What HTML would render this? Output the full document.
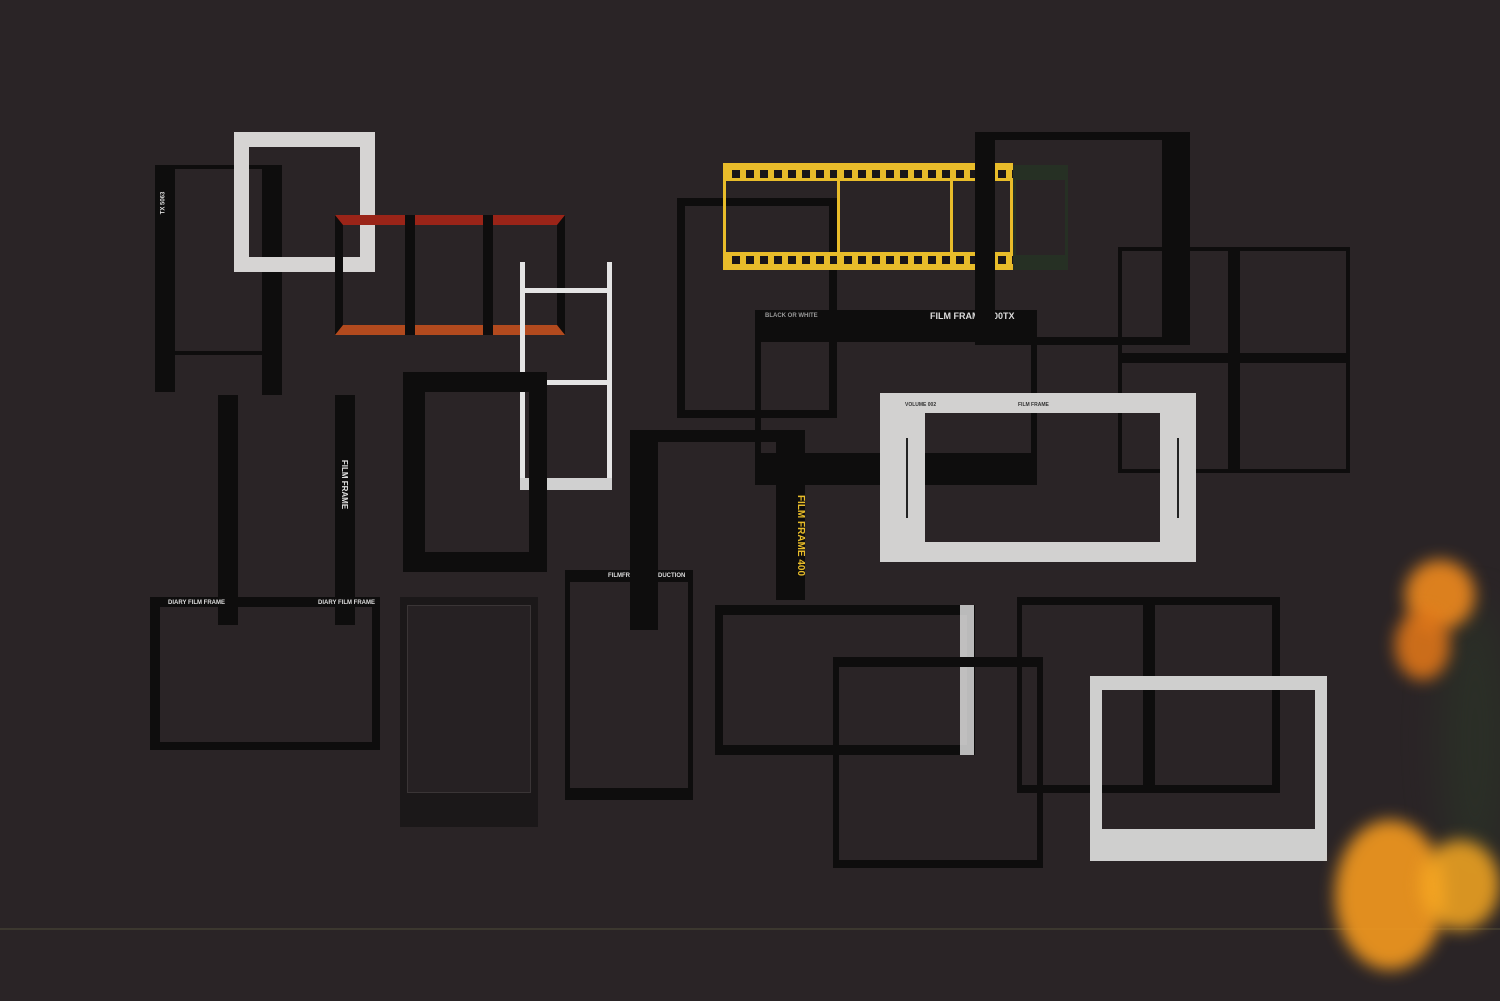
<!DOCTYPE html>
<html><head><meta charset="utf-8"><style>
html,body{margin:0;padding:0}
body{width:1500px;height:1001px;background:#2a2426;position:relative;overflow:hidden;font-family:"Liberation Sans",sans-serif}
.a{position:absolute;box-sizing:border-box}
.b{border:solid #0e0d0d}
.t{position:absolute;color:#ddd;font-size:6px;font-weight:bold;white-space:nowrap}
.holesY{background:repeating-linear-gradient(90deg,#e8bc2a 0 6px,#1a1618 6px 14px)}
.glow{position:absolute;border-radius:50%;filter:blur(8px)}
</style></head><body>
<div class="a" style="left:0;top:928px;width:1500px;height:2px;background:#4a4636;opacity:.6"></div>

<div class="a b" style="left:155px;top:165px;width:125px;height:190px;border-width:4px 4px 4px 20px"></div>
<div class="a" style="left:155px;top:330px;width:20px;height:62px;background:#0e0d0d"></div>
<div class="t" style="left:152px;top:200px;transform:rotate(-90deg)">TX 5063</div>
<div class="a" style="left:262px;top:165px;width:20px;height:230px;background:#0e0d0d"></div>
<div class="a" style="left:234px;top:132px;width:141px;height:140px;border:15px solid #d6d4d3"></div>
<div class="a b" style="left:335px;top:215px;width:230px;height:120px;border-width:10px 8px 10px 8px;border-top-color:#9a2418;border-bottom-color:#b24a1e"></div>
<div class="a" style="left:405px;top:215px;width:10px;height:120px;background:#0e0d0d"></div>
<div class="a" style="left:483px;top:215px;width:10px;height:120px;background:#0e0d0d"></div>
<div class="a" style="left:520px;top:262px;width:5px;height:228px;background:#e4e4e4"></div>
<div class="a" style="left:607px;top:262px;width:5px;height:228px;background:#e4e4e4"></div>
<div class="a" style="left:520px;top:288px;width:92px;height:5px;background:#e4e4e4"></div>
<div class="a" style="left:520px;top:380px;width:92px;height:5px;background:#e4e4e4"></div>
<div class="a" style="left:520px;top:478px;width:92px;height:12px;background:#d0d0d0"></div>
<div class="a b" style="left:403px;top:372px;width:144px;height:200px;border-width:20px 18px 20px 22px"></div>
<div class="a" style="left:218px;top:395px;width:20px;height:230px;background:#0e0d0d"></div>
<div class="a" style="left:335px;top:395px;width:20px;height:230px;background:#0e0d0d"></div>
<div class="t" style="left:320px;top:480px;transform:rotate(90deg);font-size:8px">FILM FRAME</div>
<div class="a b" style="left:150px;top:597px;width:230px;height:153px;border-width:10px 8px 8px 10px"></div>
<div class="t" style="left:168px;top:600px">DIARY FILM FRAME</div><div class="t" style="left:318px;top:600px">DIARY FILM FRAME</div>
<div class="a" style="left:400px;top:597px;width:138px;height:230px;background:#1b1819"></div>
<div class="a" style="left:407px;top:605px;width:124px;height:188px;border:1px solid #3a3536;background:#262123"></div>
<div class="a b" style="left:565px;top:570px;width:128px;height:230px;border-width:12px 5px 12px 5px"></div>
<div class="t" style="left:608px;top:573px">FILMFRAME PRODUCTION</div>
<div class="a" style="left:630px;top:430px;width:175px;height:12px;background:#0e0d0d"></div>
<div class="a" style="left:630px;top:430px;width:28px;height:200px;background:#0e0d0d"></div>
<div class="a" style="left:776px;top:430px;width:29px;height:170px;background:#0e0d0d"></div>
<div class="t" style="left:760px;top:530px;transform:rotate(90deg);font-size:10px;color:#e8bc2a">FILM FRAME 400</div>
<div class="a b" style="left:677px;top:198px;width:160px;height:220px;border-width:8px 8px 8px 8px"></div>
<div class="a" style="left:723px;top:163px;width:290px;height:107px;border:3px solid #e8bc2a;border-width:18px 3px 18px 3px"></div>
<div class="a holesY" style="left:726px;top:170px;width:287px;height:8px"></div>
<div class="a holesY" style="left:726px;top:256px;width:287px;height:8px"></div>
<div class="a" style="left:837px;top:163px;width:3px;height:107px;background:#e8bc2a"></div>
<div class="a" style="left:950px;top:163px;width:3px;height:107px;background:#e8bc2a"></div>
<div class="a" style="left:1013px;top:165px;width:55px;height:105px;border:3px solid #263024;border-width:15px 3px 15px 3px"></div>
<div class="a b" style="left:755px;top:310px;width:282px;height:175px;border-width:32px 6px 32px 6px"></div>
<div class="t" style="left:930px;top:311px;font-size:9px">FILM FRAME 400TX</div>
<div class="t" style="left:765px;top:313px;color:#999">BLACK OR WHITE</div>
<div class="a b" style="left:975px;top:132px;width:215px;height:213px;border-width:8px 28px 8px 20px"></div>
<div class="a b" style="left:1118px;top:247px;width:232px;height:226px;border-width:4px"></div>
<div class="a" style="left:1228px;top:247px;width:12px;height:226px;background:#0e0d0d"></div>
<div class="a" style="left:1118px;top:353px;width:232px;height:10px;background:#0e0d0d"></div>
<div class="a" style="left:880px;top:393px;width:316px;height:169px;border:solid #d2d1d0;border-width:20px 36px 20px 45px"></div>
<div class="t" style="left:905px;top:402px;color:#333;font-size:5px">VOLUME 002</div>
<div class="t" style="left:1018px;top:402px;color:#333;font-size:5px">FILM FRAME</div>
<div class="a" style="left:906px;top:438px;width:2px;height:80px;background:#222"></div>
<div class="a" style="left:1177px;top:438px;width:2px;height:80px;background:#222"></div>
<div class="a b" style="left:715px;top:605px;width:260px;height:150px;border-width:10px 8px 10px 8px"></div>
<div class="a" style="left:960px;top:605px;width:14px;height:150px;background:#e6e6e6;opacity:.8"></div>
<div class="a b" style="left:833px;top:657px;width:210px;height:211px;border-width:10px 6px 8px 6px"></div>
<div class="a b" style="left:1017px;top:597px;width:263px;height:196px;border-width:8px 5px 8px 5px"></div>
<div class="a" style="left:1143px;top:597px;width:12px;height:196px;background:#0e0d0d"></div>
<div class="a" style="left:1272px;top:597px;width:8px;height:196px;background:#0e0d0d"></div>
<div class="a" style="left:1090px;top:676px;width:237px;height:185px;border:solid #cfcfce;border-width:14px 12px 32px 12px"></div>
<div class="glow" style="left:1440px;top:600px;width:70px;height:280px;background:#2c3a28;opacity:.5;filter:blur(18px)"></div>
<div class="glow" style="left:1405px;top:560px;width:70px;height:70px;background:#f08a1e;opacity:.9"></div>
<div class="glow" style="left:1395px;top:610px;width:55px;height:70px;background:#e87a18;opacity:.85"></div>
<div class="glow" style="left:1335px;top:820px;width:110px;height:150px;background:#f59a1f;opacity:.9"></div>
<div class="glow" style="left:1420px;top:840px;width:80px;height:90px;background:#f7a822;opacity:.85"></div>
</body></html>
